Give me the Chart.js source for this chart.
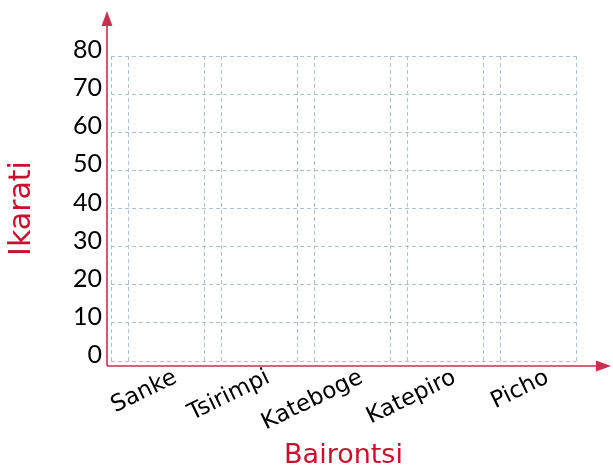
<!DOCTYPE html>
<html>
<head>
<meta charset="utf-8">
<script src="https://cdn.jsdelivr.net/npm/chart.js@4"></script>
<style>
  html, body { margin: 0; padding: 0; background: #fff; }
  #wrap { width: 613px; height: 469px; }
</style>
</head>
<body>
<div id="wrap"><canvas id="myChart"></canvas></div>
<script>
// datos del gráfico
const categories = ["Sanke", "Tsirimpi", "Kateboge", "Katepiro", "Picho"];
const values = [null, null, null, null, null]; // la gráfica está vacía
const yMin = 0;
const yMax = 80;
const yStep = 10;

const gridColor = "#b3bfce";
const axisRed = "#c7304e";
const titleRed = "#c8102e";
const labelFont = '"DejaVu Sans", sans-serif';

// ejes rojos con flechas
const arrowAxes = {
  id: "arrowAxes",
  afterDraw(chart) {
    const { ctx, chartArea } = chart;
    const x0 = chartArea.left - 4;
    const y0 = chartArea.bottom + 5;
    ctx.save();
    ctx.strokeStyle = axisRed;
    ctx.fillStyle = axisRed;
    ctx.lineWidth = 1.6;
    ctx.beginPath();
    ctx.moveTo(x0, y0);
    ctx.lineTo(x0, 24);
    ctx.moveTo(x0, y0);
    ctx.lineTo(598, y0);
    ctx.stroke();
    ctx.beginPath();
    ctx.moveTo(x0, 11);
    ctx.lineTo(x0 - 5.5, 26);
    ctx.lineTo(x0 + 5.5, 26);
    ctx.closePath();
    ctx.fill();
    ctx.beginPath();
    ctx.moveTo(611, y0);
    ctx.lineTo(596, y0 - 5.5);
    ctx.lineTo(596, y0 + 5.5);
    ctx.closePath();
    ctx.fill();
    ctx.restore();
  },
};

const myChart = new Chart(document.querySelector("#myChart"), {
  type: "bar",
  data: {
    labels: categories,
    datasets: [{ data: values, backgroundColor: "#3fa8f0" }],
  },
  options: {
    responsive: true,
    maintainAspectRatio: false,
    animation: { duration: 0 },
    layout: { padding: { top: 56, right: 37, left: 0, bottom: 0 } },
    plugins: { legend: false, tooltip: { enabled: false } },
    scales: {
      x: {
        type: "category",
        offset: true,
        grid: {
          offset: true,
          color: gridColor,
          lineWidth: 1,
          drawTicks: false,
        },
        border: { display: false, dash: [4, 3] },
        ticks: {
          color: "#000",
          font: { family: labelFont, size: 23 },
          minRotation: 26,
          maxRotation: 26,
          padding: 3,
          labelOffset: 18,
        },
        title: {
          display: true,
          text: "Bairontsi",
          color: titleRed,
          font: { family: labelFont, size: 27, lineHeight: 1 },
          padding: { top: 0, bottom: 0 },
        },
        afterFit(scale) {
          scale.height = 108;
        },
      },
      // segunda serie de líneas verticales de la cuadrícula
      x2: {
        type: "linear",
        position: "bottom",
        offset: false,
        min: -0.19,
        max: 4.81,
        grid: { offset: false, color: gridColor, lineWidth: 1, drawTicks: false },
        border: { display: false, dash: [4, 3] },
        ticks: { display: false },
        afterBuildTicks(scale) {
          scale.ticks = categories.map((c, i) => ({ value: i }));
        },
        afterFit(scale) {
          scale.height = 0;
        },
      },
      y: {
        min: yMin,
        max: yMax,
        grid: { color: gridColor, lineWidth: 1, drawTicks: false },
        border: { display: false, dash: [4, 3] },
        ticks: {
          stepSize: yStep,
          color: "#000",
          font: { family: "Lato, sans-serif", size: 25 },
          padding: 9,
          labelOffset: -6,
        },
        title: {
          display: true,
          text: "Ikarati",
          color: titleRed,
          font: { family: labelFont, size: 30, lineHeight: 1 },
          padding: { top: 7, bottom: 0 },
        },
        afterFit(scale) {
          scale.width = 111;
        },
      },
    },
  },
  plugins: [arrowAxes],
});
</script>
</body>
</html>
